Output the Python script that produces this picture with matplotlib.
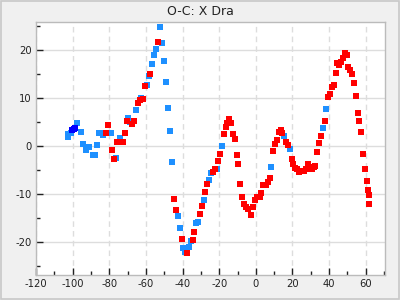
import matplotlib
matplotlib.use("Agg")
import matplotlib.pyplot as plt
from matplotlib.patches import Rectangle
from matplotlib.ticker import MultipleLocator

plt.rcParams["axes.unicode_minus"] = False

# dodger-blue series
blue_x = [-102.4, -102.4, -101.1, -97.5, -95.6, -94.2, -92.7, -90.9, -89.05, -88.0,
          -86.5, -85.4, -84.4, -83.3, -81.8, -79.2, -76.3, -74.0, -69.6, -68.5,
          -65.3, -62.5, -59.25, -58.2, -56.5, -55.4, -54.3, -52.15, -51.1, -50.0,
          -48.9, -47.8, -46.7, -45.6, -42.3, -41.2, -39.6, -38.5, -36.3, -35.2,
          -32.5, -31.4, -28.1, -25.4, -24.3, -21.0, -18.3, 8.5, 15.5, 18.8,
          36.8, 38.5]
blue_y = [1.9, 2.5, 2.9, 4.8, 3.1, 0.6, -0.8, -0.2, -1.8, -1.8,
          0.4, 2.7, 2.9, 2.3, 2.7, 2.7, -2.4, 1.7, 6.0, 5.0,
          7.5, 10.0, 12.7, 14.6, 17.1, 19.0, 20.4, 24.8, 21.5, 17.9,
          13.5, 8.1, 3.2, -3.3, -14.6, -17.1, -21.25, -21.9, -21.0, -19.8,
          -16.0, -15.8, -11.25, -7.1, -5.6, -4.8, 0.0, -4.2, 2.1, -0.6,
          3.75, 7.7]

# dark blue series
dblue_x = [-100.2, -99.1, -98.7]
dblue_y = [3.4, 3.6, 3.8]

# red series
red_x = [-81.6, -80.5, -78.35, -77.4, -75.6, -72.35, -71.25, -70.2, -67.4, -66.3,
         -64.2, -63.5, -61.4, -60.3, -57.6, -53.2, -44.5, -43.4, -40.1, -37.4,
         -34.1, -33.6, -30.3, -29.2, -27.6, -26.5, -23.2, -22.1, -20.5, -19.4,
         -17.2, -16.1, -15.6, -14.5, -13.4, -12.3, -11.2, -10.1, -9.6, -8.5,
         -7.4, -6.3, -5.2, -4.1, -2.5, -1.4, -0.3, 0.8, 2.4, 3.0,
         4.1, 5.7, 6.8, 7.9, 9.5, 10.6, 11.7, 12.8, 13.9, 14.4,
         16.6, 17.7, 19.9, 20.4, 21.5, 22.6, 23.7, 24.8, 26.45, 27.5,
         28.6, 29.7, 30.8, 31.9, 32.5, 33.55, 34.6, 35.7, 37.9, 39.55,
         40.6, 41.7, 42.8, 43.9, 44.5, 45.6, 46.65, 47.7, 48.8, 49.9,
         50.5, 51.55, 52.65, 53.7, 54.8, 55.9, 56.5, 57.6, 58.65, 59.75,
         60.85, 61.4, 61.9, 61.9]
red_y = [2.9, 4.4, -0.8, -2.6, 1.0, 1.0, 2.7, 5.4, 4.6, 5.4,
         9.0, 9.6, 9.8, 12.5, 15.2, 21.7, -11.0, -13.3, -19.2, -22.3,
         -19.4, -17.9, -14.0, -12.5, -9.6, -7.9, -5.4, -4.8, -3.1, -1.5,
         2.5, 4.0, 4.9, 5.8, 4.8, 2.5, 1.5, -1.7, -3.75, -7.9,
         -10.6, -11.9, -12.7, -13.1, -14.2, -12.7, -11.25, -10.6, -10.6, -9.8,
         -8.1, -8.1, -7.5, -6.5, -1.0, 0.6, 1.25, 3.1, 3.5, 2.7,
         1.0, 0.2, -2.7, -3.75, -4.4, -4.8, -5.4, -5.2, -5.2, -4.8,
         -3.75, -4.2, -4.6, -4.2, -4.0, -1.25, 0.8, 2.1, 5.2, 10.2,
         11.0, 12.3, 12.7, 15.4, 17.3, 16.9, 17.5, 18.5, 19.4, 19.0,
         16.5, 16.0, 15.0, 13.3, 10.6, 6.9, 5.4, 3.1, -1.5, -4.8,
         -7.3, -9.0, -10.2, -12.1]

title = "O-C: X Dra"

fig = plt.figure(figsize=(4, 3), dpi=100, facecolor="#f0f0f0")
fig.patches.append(Rectangle((0.0015, 0.002), 0.997, 0.996, transform=fig.transFigure,
                             fill=False, edgecolor="#c8c8c8", linewidth=1.2))
ax = fig.add_axes([0.09, 0.0833, 0.8725, 0.8444])
ax.set_facecolor("white")

ms = 4.8
ax.plot(blue_x, blue_y, "s", color="#1e90ff", markersize=ms, markeredgewidth=0, zorder=3)
ax.plot(red_x, red_y, "s", color="#ff0000", markersize=ms, markeredgewidth=0, zorder=4)
ax.plot(dblue_x, dblue_y, "s", color="#0000ff", markersize=ms, markeredgewidth=0, zorder=5)

ax.set_xlim(-120, 70.5)
ax.set_ylim(-26.8, 26.0)
ax.xaxis.set_major_locator(MultipleLocator(20))
ax.xaxis.set_minor_locator(MultipleLocator(10))
ax.yaxis.set_major_locator(MultipleLocator(10))
ax.yaxis.set_minor_locator(MultipleLocator(5))

ax.grid(axis="x", which="major", color="#dddddd", linestyle=(0, (4, 3)), linewidth=1)
ax.grid(axis="y", which="major", color="#dddddd", linestyle="-", linewidth=1)
ax.set_axisbelow(True)

ax.tick_params(which="both", direction="in", top=False, right=False,
               labelsize=7.2, colors="#222222", pad=3)
ax.tick_params(which="major", length=5, width=1)
ax.tick_params(which="minor", length=3, width=1)
for s in ax.spines.values():
    s.set_color("#bbbbbb")
    s.set_linewidth(1)

fig.text(0.5, 0.963, title, ha="center", va="center", fontsize=9, color="#222222")

fig.savefig("out.png", dpi=100, facecolor=fig.get_facecolor())
